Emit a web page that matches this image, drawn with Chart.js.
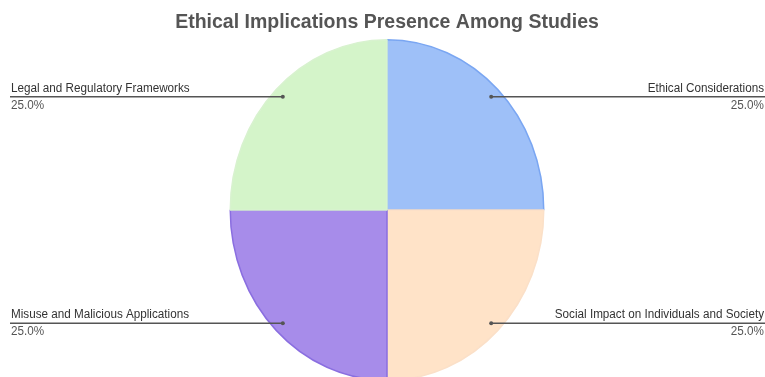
<!DOCTYPE html>
<html>
<head>
<meta charset="utf-8">
<title>Ethical Implications Presence Among Studies</title>
<script src="https://cdn.jsdelivr.net/npm/chart.js@4/dist/chart.umd.min.js"></script>
<style>
  html, body { margin: 0; padding: 0; background: #ffffff; }
  #wrap { width: 765px; height: 377px; position: relative; }
</style>
</head>
<body>
<div id="wrap"><canvas id="chart"></canvas></div>
<script>
// Categories and their share of studies
const categories = [
  'Ethical Considerations',
  'Social Impact on Individuals and Society',
  'Misuse and Malicious Applications',
  'Legal and Regulatory Frameworks'
];
const studyShares = [25, 25, 25, 25];
const fillColors = ['#9ec0f8', '#ffe3c8', '#a78cea', '#d4f4c9'];
const edgeColors = ['#7aa6f2', '#fbe0c8', '#8a6ee0', '#d8f2cf'];

// The pie is drawn slightly taller than wide
const VERTICAL_STRETCH = 1.086;
const FONT = '"Liberation Sans", Arial, sans-serif';

const stretchPie = {
  id: 'stretchPie',
  beforeDatasetsDraw(chart) {
    const arc = chart.getDatasetMeta(0).data[0];
    const ctx = chart.ctx;
    ctx.save();
    ctx.translate(arc.x, arc.y);
    ctx.scale(1, VERTICAL_STRETCH);
    ctx.translate(-arc.x, -arc.y);
  },
  afterDatasetsDraw(chart) {
    chart.ctx.restore();
  }
};

// Text drawn with the same vertical stretch as the pie
function tallText(ctx, text, x, y) {
  ctx.save();
  ctx.translate(x, y);
  ctx.scale(1, VERTICAL_STRETCH);
  ctx.fillText(text, 0, 0);
  ctx.restore();
}

// Leader lines running out to the canvas edges, with name and percentage
const leaderLabels = {
  id: 'leaderLabels',
  afterDatasetsDraw(chart) {
    const ctx = chart.ctx;
    const meta = chart.getDatasetMeta(0);
    const values = chart.data.datasets[0].data;
    const total = values.reduce((s, v) => s + v, 0);
    const W = chart.width;
    ctx.save();
    meta.data.forEach((arc, i) => {
      const mid = (arc.startAngle + arc.endAngle) / 2;
      const r = arc.outerRadius * 0.94;
      const px = arc.x + Math.cos(mid) * r;
      const py = arc.y + Math.sin(mid) * r * VERTICAL_STRETCH;
      const right = Math.cos(mid) >= 0;
      const endX = right ? W : 10;

      ctx.strokeStyle = '#555555';
      ctx.lineWidth = 1.5;
      ctx.beginPath();
      ctx.moveTo(px, py);
      ctx.lineTo(endX, py);
      ctx.stroke();

      ctx.fillStyle = '#555555';
      ctx.beginPath();
      ctx.arc(px, py, 2, 0, Math.PI * 2);
      ctx.fill();

      const textX = right ? W - 1 : 11;
      ctx.textAlign = right ? 'right' : 'left';
      ctx.font = '11.7px ' + FONT;
      ctx.textBaseline = 'alphabetic';
      ctx.fillStyle = '#333333';
      tallText(ctx, chart.data.labels[i], textX, py - 5);
      ctx.fillStyle = '#555555';
      tallText(ctx, (values[i] / total * 100).toFixed(1) + '%', textX, py + 12);
    });
    ctx.restore();
  }
};

new Chart(document.getElementById('chart'), {
  type: 'pie',
  data: {
    labels: categories,
    datasets: [{
      data: studyShares,
      backgroundColor: fillColors,
      borderColor: edgeColors,
      borderWidth: 1.5,
      clip: false
    }]
  },
  options: {
    responsive: true,
    maintainAspectRatio: false,
    animation: false,
    layout: { padding: { left: 9, right: 0, top: 0, bottom: 9.5 } },
    plugins: {
      legend: { display: false },
      tooltip: { enabled: false },
      title: {
        display: true,
        text: 'Ethical Implications Presence Among Studies',
        color: '#555555',
        font: { family: FONT, size: 19.5, weight: 'bold', lineHeight: 1.2 },
        padding: { top: 11, bottom: 18.1 }
      }
    }
  },
  plugins: [stretchPie, leaderLabels]
});
</script>
</body>
</html>
